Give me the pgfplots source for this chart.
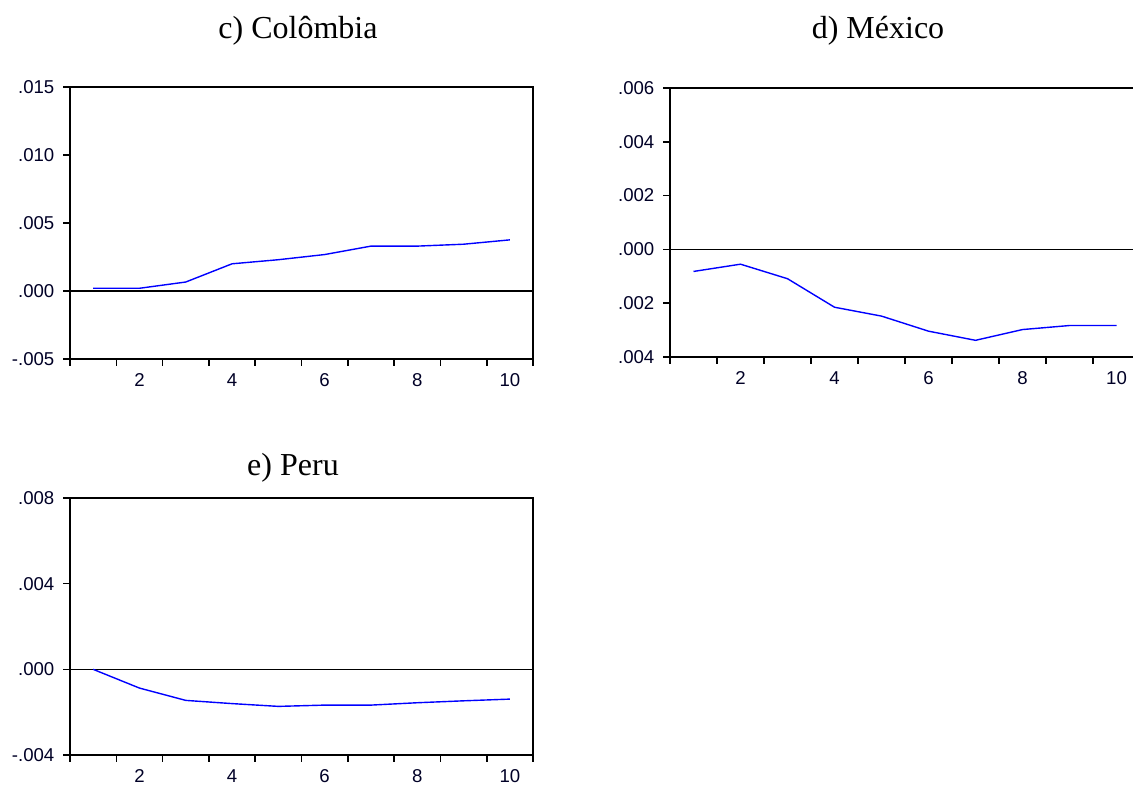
\documentclass[border=0pt]{standalone}
\usepackage{fontspec}
\setmainfont{Liberation Serif}
\setsansfont{Liberation Sans}
\usepackage{pgfplots}
\pgfplotsset{compat=1.18}
\pgfplotsset{
  ev/.style={
    scale only axis,
    anchor=south west,
    axis line style={black, line width=0.8pt},
    tick pos=left,
    tick align=outside,
    major tick length=3.3pt,
    minor tick length=3.3pt,
    every tick/.style={black, line width=0.8pt},
    major x tick style={draw=none},
    scaled y ticks=false,
    xmin=0.5, xmax=10.5,
    xtick={2,4,6,8,10},
    xticklabels={2,4,6,8,10},
    minor xtick={0.5,1.5,...,10.5},
    tick label style={font=\sffamily\fontsize{9.3}{10}\selectfont, text=black!85!blue},
    xticklabel style={yshift=-0.5pt},
    yticklabel style={xshift=-1pt},
    clip=false,
  }
}
\begin{document}
\begin{tikzpicture}
\useasboundingbox (0,0) rectangle (566.5pt,393.5pt);
% c) Colombia
\begin{axis}[ev, at={(35pt,214pt)}, width=231.5pt, height=136pt,
  ymin=-0.005, ymax=0.015, ytick={-0.005,0,0.005,0.01,0.015},
  yticklabels={-.005,.000,.005,.010,.015}]
\addplot[black, line width=0.8pt] coordinates {(0.5,0) (10.5,0)};
\addplot[blue, line width=0.7pt] coordinates {
(1,0.0002) (2,0.0002) (3,0.00066) (4,0.0020) (5,0.0023)
(6,0.00268) (7,0.0033) (8,0.0033) (9,0.00344) (10,0.00376)};
\end{axis}
% d) Mexico
\begin{axis}[ev, at={(335pt,215pt)}, width=235pt, height=134.5pt,
  ymin=-0.004, ymax=0.006, ytick={-0.004,-0.002,0,0.002,0.004,0.006},
  yticklabels={.004,.002,.000,.002,.004,.006}]
\addplot[black, line width=0.8pt] coordinates {(0.5,0) (10.5,0)};
\addplot[blue, line width=0.7pt] coordinates {
(1,-0.00082) (2,-0.00055) (3,-0.00109) (4,-0.00215) (5,-0.00248)
(6,-0.00304) (7,-0.00338) (8,-0.00298) (9,-0.00283) (10,-0.00283)};
\end{axis}
% e) Peru
\begin{axis}[ev, at={(35pt,16pt)}, width=231.5pt, height=128.5pt,
  ymin=-0.004, ymax=0.008, ytick={-0.004,0,0.004,0.008},
  yticklabels={-.004,.000,.004,.008}]
\addplot[black, line width=0.8pt] coordinates {(0.5,0) (10.5,0)};
\addplot[blue, line width=0.7pt] coordinates {
(1,0) (2,-0.000875) (3,-0.00145) (4,-0.0016) (5,-0.00173)
(6,-0.00167) (7,-0.00167) (8,-0.00156) (9,-0.00147) (10,-0.00139)};
\end{axis}
\node[font=\fontsize{16}{19}\selectfont] at (149pt,378pt) {c) Colômbia};
\node[font=\fontsize{16}{19}\selectfont] at (439pt,378pt) {d) México};
\node[font=\fontsize{16}{19}\selectfont] at (146.5pt,159.5pt) {e) Peru};
\end{tikzpicture}
\end{document}
